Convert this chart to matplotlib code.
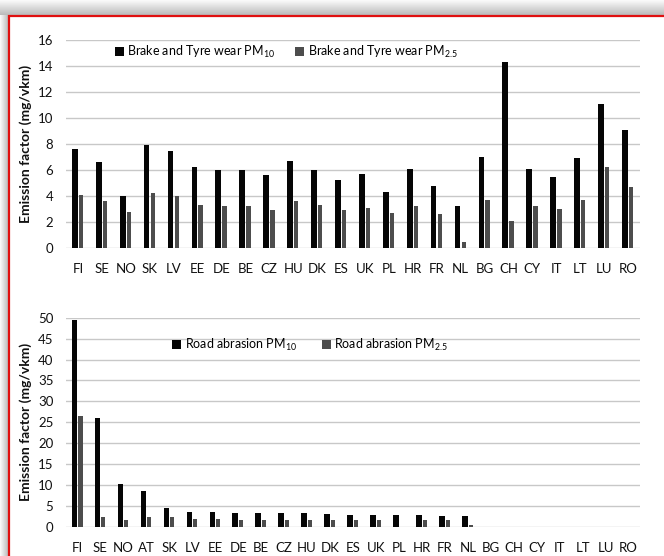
import numpy as np
import matplotlib
matplotlib.use('Agg')
import matplotlib.pyplot as plt
from matplotlib.patches import Rectangle

plt.rcParams['font.family'] = ['Lato', 'DejaVu Sans']
plt.rcParams['mathtext.fontset'] = 'custom'
plt.rcParams['mathtext.rm'] = 'Lato'
plt.rcParams['mathtext.it'] = 'Lato'

# Brake and tyre wear (mg/vkm)
bt_countries = ['FI', 'SE', 'NO', 'SK', 'LV', 'EE', 'DE', 'BE', 'CZ', 'HU', 'DK', 'ES',
                'UK', 'PL', 'HR', 'FR', 'NL', 'BG', 'CH', 'CY', 'IT', 'LT', 'LU', 'RO']
bt_pm10 = [7.6, 6.6, 4.0, 7.9, 7.5, 6.2, 6.0, 6.0, 5.6, 6.7, 6.0, 5.2,
           5.7, 4.3, 6.1, 4.8, 3.2, 7.0, 14.3, 6.1, 5.5, 6.9, 11.1, 9.1]
bt_pm25 = [4.1, 3.6, 2.8, 4.2, 4.0, 3.3, 3.2, 3.2, 2.9, 3.6, 3.3, 2.9,
           3.1, 2.7, 3.2, 2.6, 0.5, 3.7, 2.1, 3.2, 3.0, 3.7, 6.2, 4.7]

# Road abrasion (mg/vkm)
ra_countries = ['FI', 'SE', 'NO', 'AT', 'SK', 'LV', 'EE', 'DE', 'BE', 'CZ', 'HU', 'DK', 'ES',
                'UK', 'PL', 'HR', 'FR', 'NL', 'BG', 'CH', 'CY', 'IT', 'LT', 'LU', 'RO']
ra_pm10 = [49.4, 26.1, 10.2, 8.5, 4.5, 3.5, 3.4, 3.3, 3.2, 3.2, 3.2, 3.0, 2.9,
           2.7, 2.7, 2.7, 2.6, 2.5, 0, 0, 0, 0, 0, 0, 0]
ra_pm25 = [26.5, 2.3, 1.6, 2.3, 2.3, 1.8, 1.8, 1.7, 1.6, 1.6, 1.6, 1.6, 1.7,
           1.6, 0, 1.6, 1.5, 0.3, 0, 0, 0, 0, 0, 0, 0]

fig = plt.figure(figsize=(6.64, 5.56), dpi=100)

# shadow behind the red frame
bg = fig.add_axes([0, 0, 1, 1], zorder=-5)
h, w = 556, 664
yy, xx = np.mgrid[0:h, 0:w]
shade = np.ones((h, w))
top = np.clip((15 - yy) / 15.0, 0, 1)
left = np.clip((8 - xx) / 8.0, 0, 1)
shade = np.where(yy < 15, 0.72 + 0.26 * top, shade)
shade = np.where((xx < 8) & (yy >= 15), np.minimum(shade, 0.72 + 0.26 * left), shade)
bg.imshow(np.dstack([shade] * 3), extent=[0, 1, 0, 1], aspect='auto')
bg.set_axis_off()
fig.patches.append(Rectangle((8.5 / w, -0.05), 1.0, 1 - 15.5 / h + 0.05,
                             transform=fig.transFigure, fill=True, facecolor='white',
                             edgecolor='#e01010', linewidth=1.6, zorder=-4))

black = '#050505'
grey = '#4d4d4d'


def draw_panel(ax, countries, s10, s25, ymax, ystep, labels, legend_x, legend_y, colsp):
    x = np.arange(len(countries))
    ax.bar(x - 0.13, s10, width=0.24, color=black, label=labels[0], zorder=3)
    ax.bar(x + 0.13, s25, width=0.18, color=grey, label=labels[1], zorder=3)
    ax.set_xlim(-0.5, len(countries) - 0.5)
    ax.set_ylim(0, ymax)
    ax.set_yticks(np.arange(0, ymax + 0.1, ystep))
    ax.set_xticks(x)
    ax.set_xticklabels(countries)
    ax.grid(axis='y', color='#c8c8c8', linewidth=1.0, zorder=0)
    for s in ax.spines.values():
        s.set_visible(False)
    ax.tick_params(length=0, labelsize=9.5, colors='#111111')
    ax.tick_params(axis='x', pad=11)
    ax.tick_params(axis='y', pad=9)
    ax.set_ylabel('Emission factor (mg/vkm)', fontsize=10, fontweight='bold', color='#111111')
    ax.yaxis.set_label_coords(-0.06, 0.5)
    ax.legend(loc='center left', bbox_to_anchor=(legend_x, legend_y), ncol=2, frameon=False,
              handlelength=0.7, handleheight=0.7, handletextpad=0.3, columnspacing=colsp,
              fontsize=9, borderaxespad=0, borderpad=0)
    ax.set_facecolor('none')


ax1 = fig.add_axes([66 / w, 1 - 248 / h, 574 / w, 208 / h])
draw_panel(ax1, bt_countries, bt_pm10, bt_pm25, 16, 2,
           ['Brake and Tyre wear PM$_{10}$', 'Brake and Tyre wear PM$_{2.5}$'],
           0.085, 0.942, 1.6)

ax2 = fig.add_axes([66 / w, 1 - 526.7 / h, 574 / w, 209 / h])
draw_panel(ax2, ra_countries, ra_pm10, ra_pm25, 50, 5,
           ['Road abrasion PM$_{10}$', 'Road abrasion PM$_{2.5}$'],
           0.185, 0.869, 2.0)

fig.savefig('out.png', dpi=100)
